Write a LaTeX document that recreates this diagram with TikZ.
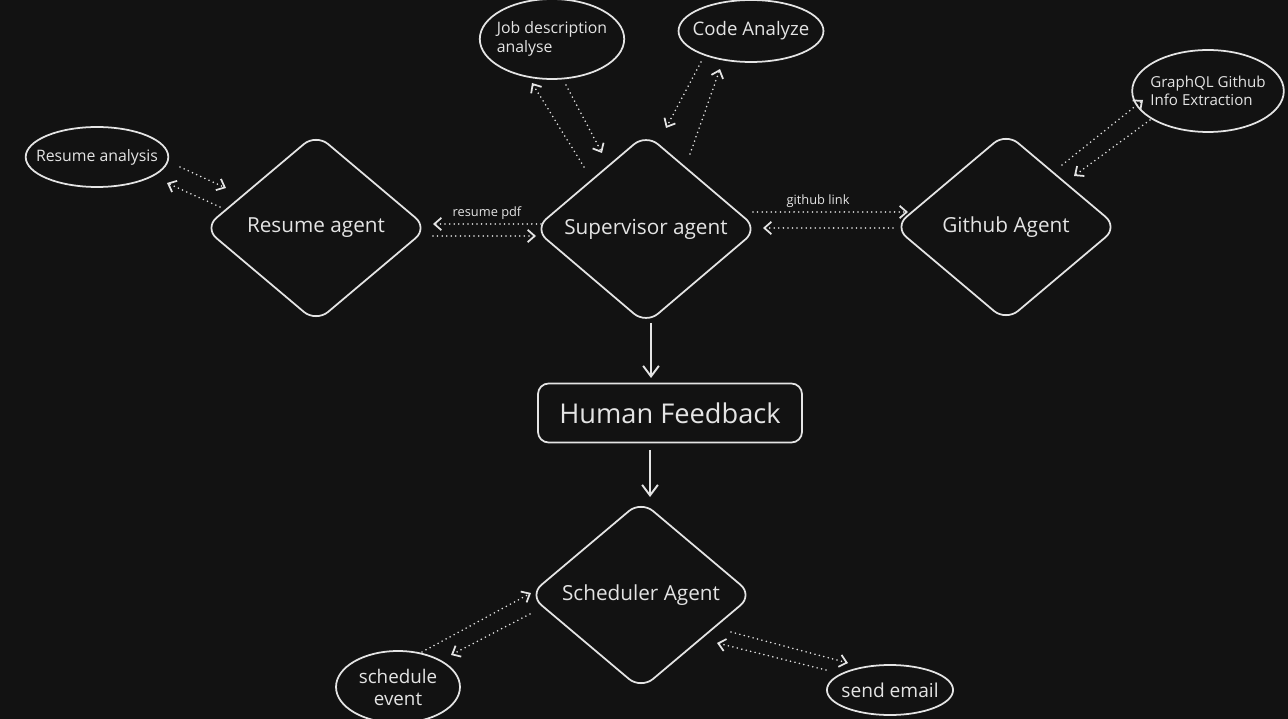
\documentclass[tikz,border=0pt]{standalone}
\usepackage{fontspec}
\setmainfont{Open Sans}
\usetikzlibrary{arrows.meta,shapes.geometric}
\definecolor{bg}{HTML}{121212}
\definecolor{ink}{HTML}{E4E4E4}
\tikzset{
  agent/.style={shape=diamond,draw=ink,line width=1pt,rounded corners=9pt,minimum width=4.48cm,minimum height=3.78cm,inner sep=1pt,text=ink,font=\fontsize{11.8}{14}\selectfont},
  tool/.style={shape=ellipse,draw=ink,line width=1pt,inner sep=0pt,text=ink},
  flow/.style={draw=ink,line width=1pt,line cap=round,dash pattern=on 0pt off 2.6pt,-{Straight Barb[length=4pt,width=7pt]}},
  mainflow/.style={draw=ink,line width=1.1pt,-{Straight Barb[length=6pt,width=9pt]}},
  tag/.style={text=ink,font=\fontsize{7.3}{8}\selectfont,inner sep=1pt}
}
\begin{document}
\begin{tikzpicture}[x=0.02cm,y=-0.02cm]

\fill[bg] (0,0) rectangle (1288,719);
\useasboundingbox (0,0) rectangle (1288,719);

\node[tool,inner xsep=-6pt,minimum width=2.84cm,minimum height=1.2cm,font=\fontsize{9}{10}\selectfont] (1) at (97,157){Resume analysis};
\node[agent] (2) at (316,228){Resume agent};
\node[agent] (3) at (646,229){Supervisor agent};
\node[agent] (4) at (1006,227){Github Agent};
\node[tool,inner xsep=-2.3pt,minimum width=2.86cm,minimum height=1.6cm,align=left,font=\fontsize{9}{10.5}\selectfont] (5) at (552,39){Job description\\analyse};
\node[tool,inner xsep=-4pt,minimum width=2.86cm,minimum height=1.24cm,font=\fontsize{10.6}{12}\selectfont] (6) at (751,31){Code Analyze};
\node[tool,inner xsep=-2.3pt,minimum width=3.02cm,minimum height=1.64cm,align=left,font=\fontsize{8.6}{10}\selectfont] (7) at (1208,91){GraphQL Github\\Info Extraction};
\node[draw=ink,line width=1pt,rounded corners=6pt,minimum width=5.28cm,minimum height=1.18cm,text=ink,font=\fontsize{15.5}{18}\selectfont] (8) at (670,413){Human Feedback};
\node[agent] (9) at (641,595){Scheduler Agent};
\node[tool,minimum width=2.48cm,minimum height=1.44cm,align=center,font=\fontsize{10.7}{12.5}\selectfont] (10) at (398,687){schedule\\event};
\node[tool,inner xsep=-2.3pt,minimum width=2.46cm,minimum height=1cm,font=\fontsize{10.9}{12}\selectfont] (11) at (890,690){send email};

\draw[flow] ([shift={(83,10)}]1.center) -- ([shift={(-90,-40)}]2.center);
\draw[flow] ([shift={(-96,-21)}]2.center) -- ([shift={(70,26)}]1.center);
\draw[flow] ([shift={(-105,-5)}]3.center) -- node[tag,above=1pt]{resume pdf} ([shift={(117,-4)}]2.center);
\draw[flow] ([shift={(117,8)}]2.center) -- ([shift={(-110,7)}]3.center);
\draw[flow] ([shift={(107,-17)}]3.center) -- node[tag,above=1pt,pos=0.42]{github link} ([shift={(-98,-15)}]4.center);
\draw[flow] ([shift={(-113,1)}]4.center) -- ([shift={(117,-1)}]3.center);
\draw[flow] ([shift={(-62,-62)}]3.center) -- ([shift={(-20,44)}]5.center);
\draw[flow] ([shift={(14,46)}]5.center) -- ([shift={(-44,-76)}]3.center);
\draw[flow] ([shift={(-50,31)}]6.center) -- ([shift={(20,-101)}]3.center);
\draw[flow] ([shift={(44,-75)}]3.center) -- ([shift={(-31,38)}]6.center);
\draw[flow] ([shift={(56,-62)}]4.center) -- ([shift={(-65,9)}]7.center);
\draw[flow] ([shift={(-58,29)}]7.center) -- ([shift={(68,-51)}]4.center);
\draw[flow] ([shift={(24,-35)}]10.center) -- ([shift={(-110,-2)}]9.center);
\draw[flow] ([shift={(-111,19)}]9.center) -- ([shift={(53,-32)}]10.center);
\draw[flow] ([shift={(90,37)}]9.center) -- ([shift={(-42,-27)}]11.center);
\draw[flow] ([shift={(-64,-20)}]11.center) -- ([shift={(76,48)}]9.center);
\draw[mainflow] ([shift={(5,94)}]3.center) -- ([shift={(-19,-35)}]8.center);
\draw[mainflow] ([shift={(-20,37)}]8.center) -- ([shift={(9,-98)}]9.center);

\end{tikzpicture}
\end{document}
